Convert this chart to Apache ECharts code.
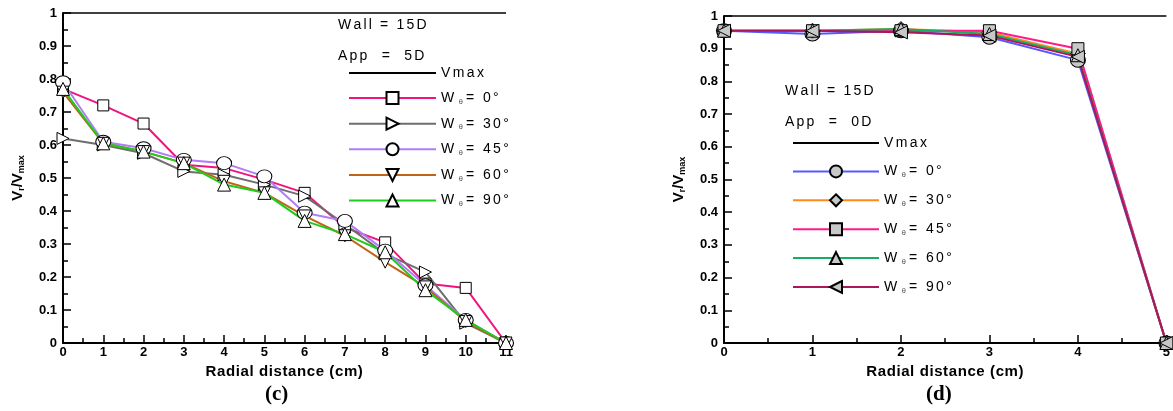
<!DOCTYPE html>
<html>
<head>
<meta charset="utf-8">
<script src="https://cdn.jsdelivr.net/npm/echarts@6/dist/echarts.min.js"></script>
<style>
  html, body { margin: 0; padding: 0; background: #fff; }
  #chart { width: 1173px; height: 411px; }
</style>
</head>
<body>
<div id="chart"></div>
<script>
// ---- panel (c): Wall = 15D, App = 5D ----
const distC = [0, 1, 2, 3, 4, 5, 6, 7, 8, 9, 10, 11];
const c_w0  = [0.77, 0.72, 0.665, 0.54, 0.53, 0.495, 0.455, 0.35, 0.305, 0.18, 0.167, 0];
const c_w30 = [0.62, 0.60, 0.575, 0.52, 0.51, 0.48, 0.445, 0.36, 0.27, 0.215, 0.06, 0];
const c_w45 = [0.79, 0.61, 0.59, 0.555, 0.545, 0.505, 0.395, 0.37, 0.28, 0.175, 0.07, 0];
const c_w60 = [0.76, 0.605, 0.58, 0.545, 0.49, 0.455, 0.385, 0.325, 0.245, 0.17, 0.065, 0];
const c_w90 = [0.77, 0.605, 0.58, 0.545, 0.48, 0.455, 0.37, 0.33, 0.275, 0.16, 0.07, 0];

// ---- panel (d): Wall = 15D, App = 0D ----
const distD = [0, 1, 2, 3, 4, 5];
const d_w0  = [0.955, 0.945, 0.955, 0.935, 0.865, 0];
const d_w30 = [0.955, 0.955, 0.96, 0.95, 0.885, 0];
const d_w45 = [0.955, 0.955, 0.955, 0.955, 0.90, 0];
const d_w60 = [0.955, 0.955, 0.96, 0.945, 0.88, 0];
const d_w90 = [0.955, 0.955, 0.95, 0.94, 0.875, 0];

const vmax = 1;
const angleLabels = ['0°', '30°', '45°', '60°', '90°'];

const FONT = 'Arial, "Liberation Sans", sans-serif';
const SYM = {
  square: 'rect',
  circle: 'circle',
  triUp: 'triangle',
  triDown: 'path://M0,0 L10,0 L5,10 Z',
  triRight: 'path://M0,0 L10,5 L0,10 Z',
  triLeft: 'path://M10,0 L0,5 L10,10 Z',
  diamond: 'diamond'
};

const pairs = (xs, ys) => xs.map((x, i) => [x, ys[i]]);

// wraps every character in its own rich fragment so the text gets extra tracking
function spaced(str, key) {
  return str.split('').map(ch => '{' + key + '|' + ch + '}').join('');
}

function angleSeries(prefix, idx, xs, list) {
  return list.map((s, k) => ({
    name: prefix + '|' + angleLabels[k],
    type: 'line',
    xAxisIndex: idx, yAxisIndex: idx,
    data: pairs(xs, s.v),
    symbol: s.sym,
    symbolSize: s.size,
    clip: false,
    color: s.c,
    lineStyle: { color: s.c, width: 2 },
    itemStyle: { color: s.fill, borderColor: '#000', borderWidth: 1 },
    animation: false
  }));
}

function vmaxSeries(prefix, idx, xMax) {
  return {
    name: prefix + '|Vmax',
    type: 'line',
    xAxisIndex: idx, yAxisIndex: idx,
    data: [[0, vmax], [xMax, vmax]],
    symbol: 'circle',
    showSymbol: false,
    clip: false,
    color: '#000',
    lineStyle: { color: '#000', width: 1.5 },
    itemStyle: { color: 'rgba(0,0,0,0)', borderColor: 'rgba(0,0,0,0)', borderWidth: 0 },
    animation: false
  };
}

const seriesC = angleSeries('c', 0, distC, [
  { v: c_w0,  c: '#f0147c', sym: SYM.square,   size: 11,       fill: '#fff' },
  { v: c_w30, c: '#6e6e6e', sym: SYM.triRight, size: 12,       fill: '#fff' },
  { v: c_w45, c: '#b07cf8', sym: SYM.circle,   size: [15, 13], fill: '#fff' },
  { v: c_w60, c: '#bf6418', sym: SYM.triDown,  size: 12,       fill: '#fff' },
  { v: c_w90, c: '#1ecc1e', sym: SYM.triUp,    size: 13,       fill: '#fff' }
]);
const seriesD = angleSeries('d', 1, distD, [
  { v: d_w0,  c: '#5858ff', sym: SYM.circle,  size: [15, 14], fill: '#c8c8c8' },
  { v: d_w30, c: '#ff8a1c', sym: SYM.diamond, size: 15,       fill: '#c8c8c8' },
  { v: d_w45, c: '#ff1a8a', sym: SYM.square,  size: 12,       fill: '#c8c8c8' },
  { v: d_w60, c: '#14b060', sym: SYM.triUp,   size: 13,       fill: '#c8c8c8' },
  { v: d_w90, c: '#b0145a', sym: SYM.triLeft, size: 13,       fill: '#c8c8c8' }
]);

const legendRich = {
  t: { fontFamily: FONT, fontSize: 14, color: '#000', lineHeight: 16, padding: [0, 2.4, 0, 0] },
  s: { fontFamily: FONT, fontSize: 8, color: '#555', lineHeight: 16, padding: [7, 3, 0, 2] }
};
function legendFmt(name) {
  const key = name.split('|')[1];
  if (key === 'Vmax') return spaced('Vmax', 't');
  return '{t|W}{s|θ}' + spaced('= ' + key, 't');
}

const axisNameRich = {
  n: { fontFamily: FONT, fontSize: 15, fontWeight: 'bold', color: '#000', padding: [0, 0.6, 0, 0] }
};

function xAxisCfg(idx, max) {
  return {
    type: 'value', gridIndex: idx, min: 0, max: max, interval: 1,
    name: spaced('Radial distance (cm)', 'n'), nameLocation: 'middle', nameGap: 15,
    nameTextStyle: { rich: axisNameRich },
    axisLine: { lineStyle: { color: '#000', width: 2 } },
    axisTick: { inside: true, length: 8, lineStyle: { color: '#000', width: 1.5 } },
    minorTick: { show: true, splitNumber: 2, length: 5, lineStyle: { color: '#000', width: 1.5 } },
    axisLabel: { fontFamily: FONT, fontSize: 13, fontWeight: 'bold', color: '#000', margin: 3 },
    splitLine: { show: false }
  };
}
function yAxisCfg(idx) {
  return {
    type: 'value', gridIndex: idx, min: 0, max: 1, interval: 0.1,
    name: '{b|V}{s|r}{b|/V}{s|max}', nameLocation: 'middle', nameGap: 36, nameRotate: 90,
    nameTextStyle: {
      rich: {
        b: { fontFamily: FONT, fontSize: 15, fontWeight: 'bold', color: '#000', lineHeight: 18 },
        s: { fontFamily: FONT, fontSize: 9, fontWeight: 'bold', color: '#000', lineHeight: 18, padding: [7, 0, 0, 0] }
      }
    },
    axisLine: { show: true, lineStyle: { color: '#000', width: 2 } },
    axisTick: { show: true, inside: true, length: 8, lineStyle: { color: '#000', width: 1.5 } },
    minorTick: { show: true, splitNumber: 2, length: 5, lineStyle: { color: '#000', width: 1.5 } },
    axisLabel: { fontFamily: FONT, fontSize: 13, fontWeight: 'bold', color: '#000', margin: 6 },
    splitLine: { show: false }
  };
}

function annot(x, y, str) {
  return { type: 'text', left: x, top: y,
    style: { text: spaced(str, 'a'),
      rich: { a: { fontFamily: FONT, fontSize: 14, color: '#000', padding: [0, 2.2, 0, 0] } } } };
}
function panelTag(x, y, str) {
  return { type: 'text', left: x, top: y,
    style: { text: str, fontFamily: '"Liberation Serif", "Times New Roman", serif', fontSize: 21, fontWeight: 'bold', fill: '#000' } };
}

const chart = echarts.init(document.getElementById('chart'), null, { renderer: 'canvas' });
chart.setOption({
  backgroundColor: '#fff',
  animation: false,
  grid: [
    { left: 63, top: 13, width: 443, height: 330 },
    { left: 724, top: 16, width: 444, height: 327 }
  ],
  xAxis: [xAxisCfg(0, 11), xAxisCfg(1, 5)],
  yAxis: [yAxisCfg(0), yAxisCfg(1)],
  legend: [
    {
      orient: 'vertical', left: 343, top: 61,
      itemWidth: 87, itemHeight: 15, itemGap: 10.6,
      data: ['c|Vmax'].concat(seriesC.map(s => s.name)),
      formatter: legendFmt,
      textStyle: { rich: legendRich },
      selectedMode: false
    },
    {
      orient: 'vertical', left: 787, top: 131,
      itemWidth: 86, itemHeight: 15, itemGap: 13.9,
      data: ['d|Vmax'].concat(seriesD.map(s => s.name)),
      formatter: legendFmt,
      textStyle: { rich: legendRich },
      selectedMode: false
    }
  ],
  graphic: [
    annot(338, 18, 'Wall = 15D'),
    annot(338, 49, 'App  =  5D'),
    annot(785, 84, 'Wall = 15D'),
    annot(785, 115, 'App  =  0D'),
    panelTag(265, 384, '(c)'),
    panelTag(926, 384, '(d)')
  ],
  series: [vmaxSeries('c', 0, 11)].concat(seriesC, [vmaxSeries('d', 1, 5)], seriesD)
});
</script>
</body>
</html>
